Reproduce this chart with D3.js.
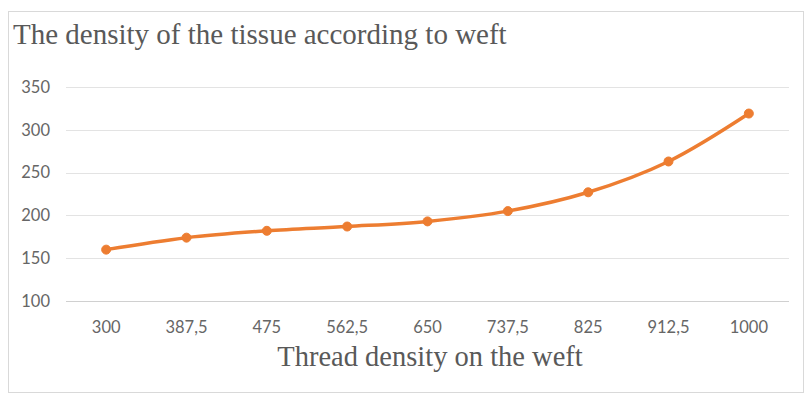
<!DOCTYPE html>
<html>
<head>
<meta charset="utf-8">
<script src="https://cdn.jsdelivr.net/npm/d3@7/dist/d3.min.js"></script>
<style>
html, body { margin: 0; padding: 0; background: #ffffff; }
svg { display: block; }
</style>
</head>
<body>
<svg id="chart" width="805" height="396"></svg>
<script>
const categories = ["300", "387,5", "475", "562,5", "650", "737,5", "825", "912,5", "1000"];
const densityValues = [160, 174, 182, 187, 193, 205, 227, 263, 319];
const yTicks = [100, 150, 200, 250, 300, 350];
const chartTitle = "The density of the tissue according to weft";
const xAxisTitle = "Thread density on the weft";

const svg = d3.select("#chart");
const plot = { left: 66, right: 789, top: 87, bottom: 301 };

// chart frame
svg.append("rect")
  .attr("x", 8.5).attr("y", 11.5)
  .attr("width", 795).attr("height", 381)
  .attr("fill", "#ffffff")
  .attr("stroke", "#d9d9d9").attr("stroke-width", 1);

const x = d3.scaleBand().domain(categories).range([plot.left, plot.right]).padding(0);
const y = d3.scaleLinear().domain([100, 350]).range([plot.bottom, plot.top]);

// gridlines
svg.append("g").selectAll("line").data(yTicks).join("line")
  .attr("x1", plot.left).attr("x2", plot.right)
  .attr("y1", d => Math.round(y(d)) + 0.5).attr("y2", d => Math.round(y(d)) + 0.5)
  .attr("stroke", d => d === 100 ? "#d0d0d0" : "#e3e3e3").attr("stroke-width", 1.2);

// y axis labels
const yAxis = d3.axisLeft(y).tickValues(yTicks).tickSize(0).tickPadding(0).tickFormat(d3.format("d"));
const gy = svg.append("g").attr("transform", `translate(${plot.left - 16},0)`).call(yAxis);
gy.select(".domain").remove();
gy.selectAll("text").attr("font-family", "Lato, 'Open Sans', sans-serif").attr("font-size", 16.5).attr("fill", "#666666");

// x axis labels
const xAxis = d3.axisBottom(x).tickSize(0).tickPadding(0);
const gx = svg.append("g").attr("transform", `translate(0,${plot.bottom + 20})`).call(xAxis);
gx.select(".domain").remove();
gx.selectAll("text").attr("font-family", "Lato, 'Open Sans', sans-serif").attr("font-size", 16.5).attr("fill", "#666666");

// line
const pts = categories.map((c, i) => [x(c) + x.bandwidth() / 2, y(densityValues[i])]);
svg.append("path")
  .datum(pts)
  .attr("d", d3.line().curve(d3.curveCatmullRom.alpha(0.5)))
  .attr("fill", "none")
  .attr("stroke", "#ED7D31")
  .attr("stroke-width", 3.5)
  .attr("stroke-linecap", "round");

svg.append("g").selectAll("circle").data(pts).join("circle")
  .attr("cx", d => d[0]).attr("cy", d => d[1]).attr("r", 4.5)
  .attr("fill", "#ED7D31").attr("stroke", "#ED7D31").attr("stroke-width", 1);

// titles
svg.append("text")
  .attr("x", 13).attr("y", 44)
  .attr("font-family", "'Liberation Serif', 'Times New Roman', serif")
  .attr("font-size", 29).attr("fill", "#595959")
  .text(chartTitle);

svg.append("text")
  .attr("x", 430).attr("y", 366)
  .attr("text-anchor", "middle")
  .attr("font-family", "'Liberation Serif', 'Times New Roman', serif")
  .attr("font-size", 28.5).attr("fill", "#595959")
  .text(xAxisTitle);
</script>
</body>
</html>
